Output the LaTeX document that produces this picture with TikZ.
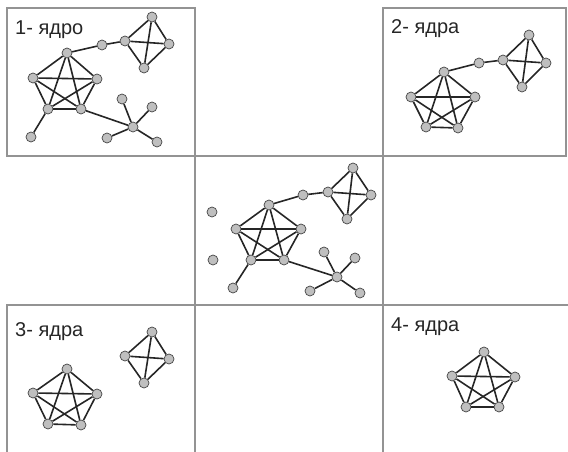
\documentclass[tikz,border=0pt]{standalone}
\usepackage{fontspec}
\setmainfont{Liberation Sans}
\begin{document}
\begin{tikzpicture}[x=1pt,y=-1pt,
  v/.style={circle,fill=gray!50,draw=gray!55!black,line width=0.7pt,inner sep=0pt,minimum size=10pt},
  e/.style={line width=1.6pt,draw=black!85},
  frame/.style={line width=1.4pt,draw=gray!85},
  lab/.style={anchor=west,inner sep=0pt,text=black!85,font=\fontsize{20}{23}\selectfont}]
\useasboundingbox (0,0) rectangle (568,452);
% frames
\draw[frame] (7,8) rectangle (195,156);
\draw[frame] (383,8) rectangle (566,156);
\draw[frame] (195,156) -- (383,156);
\draw[frame] (195,156) -- (195,452);
\draw[frame] (383,156) -- (383,452);
\draw[frame] (7,452) -- (7,305) -- (568,305);
% labels
\node[lab] (l1) at (15,30) {1- ядро};
\node[lab] (l2) at (391,29) {2- ядра};
\node[lab] (l3) at (15,332) {3- ядра};
\node[lab] (l4) at (391,327) {4- ядра};
% ---------- panel 1
\node[v] (ap1) at (67,53) {};
\node[v] (ap2) at (97,79) {};
\node[v] (ap3) at (81,109) {};
\node[v] (ap4) at (48,109) {};
\node[v] (ap5) at (33,78) {};
\node[v] (ac) at (102,45) {};
\node[v] (ad1) at (125,41) {};
\node[v] (ad2) at (152,17) {};
\node[v] (ad3) at (169,44) {};
\node[v] (ad4) at (144,68) {};
\node[v] (apd) at (31,137) {};
\node[v] (as0) at (133,127) {};
\node[v] (as1) at (122,99) {};
\node[v] (as2) at (152,107) {};
\node[v] (as3) at (107,138) {};
\node[v] (as4) at (157,142) {};
\foreach \i/\j in {1/2,1/3,1/4,1/5,2/3,2/4,2/5,3/4,3/5,4/5}
  \draw[e] (ap\i) -- (ap\j);
\foreach \i/\j in {1/2,1/3,1/4,2/3,2/4,3/4}
  \draw[e] (ad\i) -- (ad\j);
\draw[e] (ap1) -- (ac) -- (ad1);
\draw[e] (ap4) -- (apd);
\draw[e] (ap3) -- (as0);
\foreach \i in {1,2,3,4} \draw[e] (as0) -- (as\i);
% ---------- panel 2
\node[v] (bp1) at (444,72) {};
\node[v] (bp2) at (475,97) {};
\node[v] (bp3) at (458,128) {};
\node[v] (bp4) at (426,127) {};
\node[v] (bp5) at (411,97) {};
\node[v] (bc) at (479,63) {};
\node[v] (bd1) at (503,60) {};
\node[v] (bd2) at (529,35) {};
\node[v] (bd3) at (546,63) {};
\node[v] (bd4) at (522,87) {};
\foreach \i/\j in {1/2,1/3,1/4,1/5,2/3,2/4,2/5,3/4,3/5,4/5}
  \draw[e] (bp\i) -- (bp\j);
\foreach \i/\j in {1/2,1/3,1/4,2/3,2/4,3/4}
  \draw[e] (bd\i) -- (bd\j);
\draw[e] (bp1) -- (bc) -- (bd1);
% ---------- middle panel
\node[v] (mi1) at (212,212) {};
\node[v] (mi2) at (213,260) {};
\node[v] (mp1) at (269,205) {};
\node[v] (mp2) at (301,229) {};
\node[v] (mp3) at (284,260) {};
\node[v] (mp4) at (251,260) {};
\node[v] (mp5) at (236,229) {};
\node[v] (mpd) at (233,288) {};
\node[v] (mc) at (303,195) {};
\node[v] (md1) at (328,192) {};
\node[v] (md2) at (353,168) {};
\node[v] (md3) at (371,195) {};
\node[v] (md4) at (347,219) {};
\node[v] (ms0) at (337,277) {};
\node[v] (ms1) at (324,252) {};
\node[v] (ms2) at (355,258) {};
\node[v] (ms3) at (310,291) {};
\node[v] (ms4) at (360,293) {};
\foreach \i/\j in {1/2,1/3,1/4,1/5,2/3,2/4,2/5,3/4,3/5,4/5}
  \draw[e] (mp\i) -- (mp\j);
\foreach \i/\j in {1/2,1/3,1/4,2/3,2/4,3/4}
  \draw[e] (md\i) -- (md\j);
\draw[e] (mp1) -- (mc) -- (md1);
\draw[e] (mp4) -- (mpd);
\draw[e] (mp3) -- (ms0);
\foreach \i in {1,2,3,4} \draw[e] (ms0) -- (ms\i);
% ---------- panel 3
\node[v] (cp1) at (67,369) {};
\node[v] (cp2) at (97,394) {};
\node[v] (cp3) at (81,425) {};
\node[v] (cp4) at (48,424) {};
\node[v] (cp5) at (33,393) {};
\node[v] (cd1) at (125,356) {};
\node[v] (cd2) at (152,332) {};
\node[v] (cd3) at (169,359) {};
\node[v] (cd4) at (144,383) {};
\foreach \i/\j in {1/2,1/3,1/4,1/5,2/3,2/4,2/5,3/4,3/5,4/5}
  \draw[e] (cp\i) -- (cp\j);
\foreach \i/\j in {1/2,1/3,1/4,2/3,2/4,3/4}
  \draw[e] (cd\i) -- (cd\j);
% ---------- panel 4
\node[v] (dp1) at (484,352) {};
\node[v] (dp2) at (515,377) {};
\node[v] (dp3) at (499,407) {};
\node[v] (dp4) at (466,407) {};
\node[v] (dp5) at (452,376) {};
\foreach \i/\j in {1/2,1/3,1/4,1/5,2/3,2/4,2/5,3/4,3/5,4/5}
  \draw[e] (dp\i) -- (dp\j);
\end{tikzpicture}
\end{document}
